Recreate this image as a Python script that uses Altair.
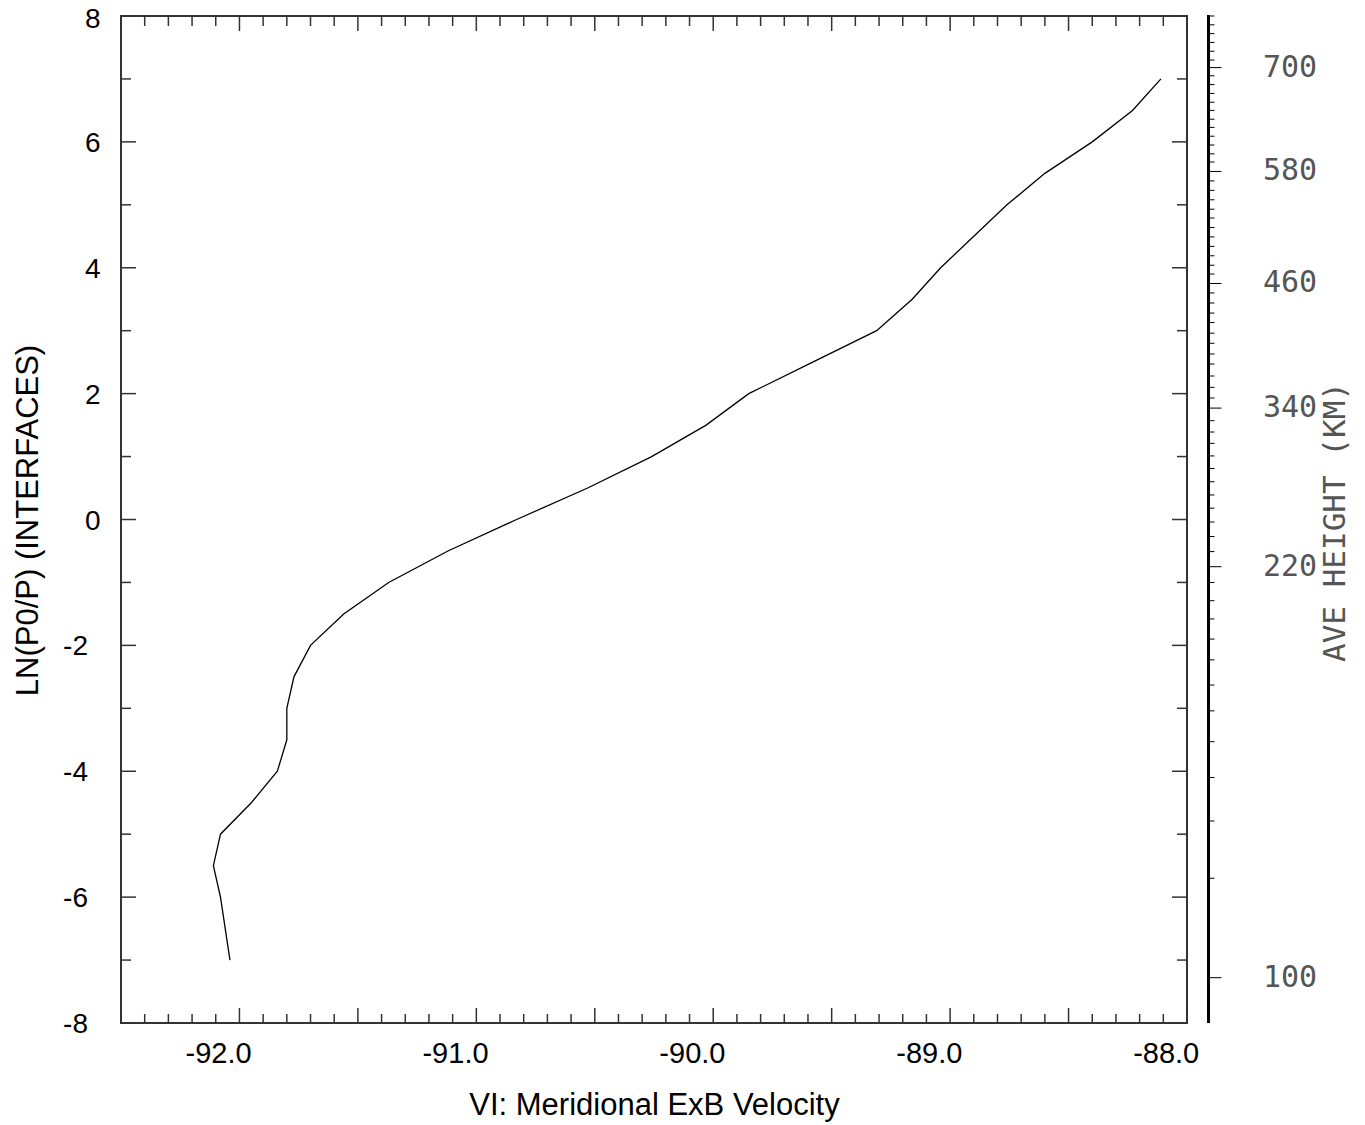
import altair as alt
import pandas as pd

# ---------------- data ----------------
ln_p = [-7, -6, -5.5, -5, -4.5, -4, -3.5, -3, -2.5, -2, -1.5, -1, -0.5, 0,
        0.5, 1, 1.5, 2, 2.5, 3, 3.5, 4, 4.5, 5, 5.5, 6, 6.5, 7]
vi = [-91.95, -91.99, -92.02, -91.99, -91.86, -91.75, -91.71, -91.71, -91.68,
      -91.61, -91.47, -91.28, -91.03, -90.74, -90.44, -90.17, -89.94, -89.76,
      -89.49, -89.22, -89.07, -88.95, -88.81, -88.67, -88.51, -88.31, -88.14,
      -88.02]

x_domain = [-92.41, -87.91]
y_domain = [-8, 8]
x_labels = [-92.0, -91.0, -90.0, -89.0, -88.0]
y_labels_pos = [0, 2, 4, 6, 8]
y_labels_neg = ["-8", "-6", "-4", "-2"]
y_labels_neg_val = [-8, -6, -4, -2]

# inward frame ticks (every 0.1 from axis start, long every 0.5)
x_tick_start = -92.41
x_tick_step = 0.1
x_tick_count = 46
y_tick_vals = [-8, -7, -6, -5, -4, -3, -2, -1, 0, 1, 2, 3, 4, 5, 6, 7, 8]

# right-hand height axis: height (km) and its ln(p0/p) position
heights = [760, 750, 740, 730, 720, 710, 700, 690, 680, 670, 660, 650, 640, 630,
           620, 610, 600, 590, 580, 570, 560, 550, 540, 530, 520, 510, 500, 490,
           480, 470, 460, 450, 440, 430, 420, 410, 400, 390, 380, 370, 360, 350,
           340, 330, 320, 310, 300, 290, 280, 270, 260, 250, 240, 230, 220, 210,
           200, 190, 180, 170, 160, 150, 140, 130, 120, 110, 100]
height_z = [8.00, 7.86, 7.72, 7.58, 7.44, 7.30, 7.18, 7.05, 6.91, 6.77, 6.63,
            6.50, 6.36, 6.23, 6.09, 5.95, 5.81, 5.68, 5.53, 5.38, 5.23, 5.08,
            4.93, 4.79, 4.64, 4.49, 4.34, 4.19, 4.04, 3.90, 3.75, 3.60, 3.44,
            3.28, 3.13, 2.96, 2.80, 2.63, 2.47, 2.28, 2.10, 1.93, 1.77, 1.57,
            1.39, 1.21, 1.01, 0.81, 0.60, 0.39, 0.18, -0.04, -0.27, -0.51,
            -0.75, -1.00, -1.29, -1.58, -1.90, -2.23, -2.63, -3.04, -3.53,
            -4.10, -4.79, -5.70, -7.28]
height_labels = [700, 580, 460, 340, 220, 100]

# ---------------- frames ----------------
W, H = 1066, 1007
df = pd.DataFrame({"vi": vi, "z": ln_p})

xt = pd.DataFrame({
    "v": [round(x_tick_start + i * x_tick_step, 3) for i in range(x_tick_count)],
    "major": [i % 5 == 0 for i in range(x_tick_count)],
})
yt = pd.DataFrame({"z": y_tick_vals, "major": [v % 2 == 0 for v in y_tick_vals]})
yneg = pd.DataFrame({"z": y_labels_neg_val, "lab": y_labels_neg})
ht = pd.DataFrame({"h": heights, "z": height_z,
                   "major": [h in height_labels for h in heights]})

xs = alt.Scale(domain=x_domain, nice=False, zero=False)
ys = alt.Scale(domain=y_domain, nice=False, zero=False)
FRAME = "#333333"
LFS = 28

line = alt.Chart(df).mark_line(color="black", strokeWidth=1.3, clip=True).encode(
    x=alt.X("vi:Q", scale=xs,
            axis=alt.Axis(values=x_labels, ticks=False, domain=False,
                          labelExpr="replace(format(datum.value, '.1f'), '\u2212', '-')",
                          grid=False, labelFont="Liberation Sans", labelFontSize=29,
                          labelColor="black", labelPadding=16,
                          title="VI: Meridional ExB Velocity",
                          titleFont="Liberation Sans", titleFontSize=31,
                          titleFontWeight="normal", titleColor="black",
                          titleX=533, titleY=82, titleAlign="center",
                          titleBaseline="middle")),
    y=alt.Y("z:Q", scale=ys,
            axis=alt.Axis(values=y_labels_pos, ticks=False, domain=False, grid=False,
                          labelFont="Liberation Sans", labelFontSize=LFS,
                          labelColor="black", labelPadding=21,
                          labelOffset={"condition": {"test": "datum.value == 8", "value": 3.5},
                                       "value": 1.5},
                          format="d",
                          title="LN(P0/P) (INTERFACES)",
                          titleFont="Liberation Sans", titleFontSize=31,
                          titleFontWeight="normal", titleColor="black",
                          titleX=-93, titleY=504, titleAngle=270,
                          titleAlign="center", titleBaseline="middle")),
    order="z:Q",
)

neg_labels = alt.Chart(yneg).mark_text(
    font="Liberation Sans", fontSize=LFS, color="black", align="right",
    baseline="middle", dy=1.5).encode(
    y=alt.Y("z:Q", scale=ys), x=alt.value(-33), text="lab:N")


def xticks(major, y0, y1):
    return alt.Chart(xt).transform_filter(
        alt.datum.major if major else ~alt.datum.major
    ).mark_rule(color=FRAME, strokeWidth=1.5).encode(
        x=alt.X("v:Q", scale=xs), y=alt.value(y0), y2=alt.value(y1))


def yticks(major, x0, x1):
    return alt.Chart(yt).transform_filter(
        alt.datum.major if major else ~alt.datum.major
    ).mark_rule(color=FRAME, strokeWidth=1.5).encode(
        y=alt.Y("z:Q", scale=ys), x=alt.value(x0), x2=alt.value(x1))


tick_layers = [
    xticks(False, H, H - 9), xticks(True, H, H - 15),
    xticks(False, 0, 10), xticks(True, 0, 15),
    yticks(False, 0, 10), yticks(True, 0, 15),
    yticks(False, W, W - 10), yticks(True, W, W - 15),
]

AX = W + 21.5
h_line = alt.Chart(ht).mark_rule(color="black", strokeWidth=1.2).encode(
    x=alt.value(AX), y=alt.value(-1), y2=alt.value(H))
h_minor = alt.Chart(ht).transform_filter(~alt.datum.major).mark_rule(
    color="black", strokeWidth=1).encode(
    y=alt.Y("z:Q", scale=ys), x=alt.value(AX), x2=alt.value(AX + 6))
h_major = alt.Chart(ht).transform_filter(alt.datum.major).mark_rule(
    color="black", strokeWidth=1).encode(
    y=alt.Y("z:Q", scale=ys), x=alt.value(AX), x2=alt.value(AX + 13))
h_text = alt.Chart(ht).transform_filter(alt.datum.major).mark_text(
    font="DejaVu Sans Mono", fontSize=30, color="#555555", align="left",
    baseline="middle").encode(
    y=alt.Y("z:Q", scale=ys), x=alt.value(1142), text="h:Q")
h_title = alt.Chart(ht).transform_aggregate(n="count()").mark_text(
    font="DejaVu Sans Mono", fontSize=31, color="#555555", angle=270,
    align="center", baseline="middle").encode(
    x=alt.value(1215), y=alt.value(506), text=alt.value("AVE HEIGHT (KM)"))

chart = alt.layer(line, neg_labels, *tick_layers, h_line, h_minor, h_major,
                  h_text, h_title).properties(
    width=W, height=H,
    padding={"left": 113, "top": 8, "right": 170, "bottom": 100},
    autosize=alt.AutoSizeParams(type="none"),
).configure(background="white").configure_view(stroke=FRAME, strokeWidth=2)

chart.save("out.html", embed_options={"renderer": "svg", "actions": False})
